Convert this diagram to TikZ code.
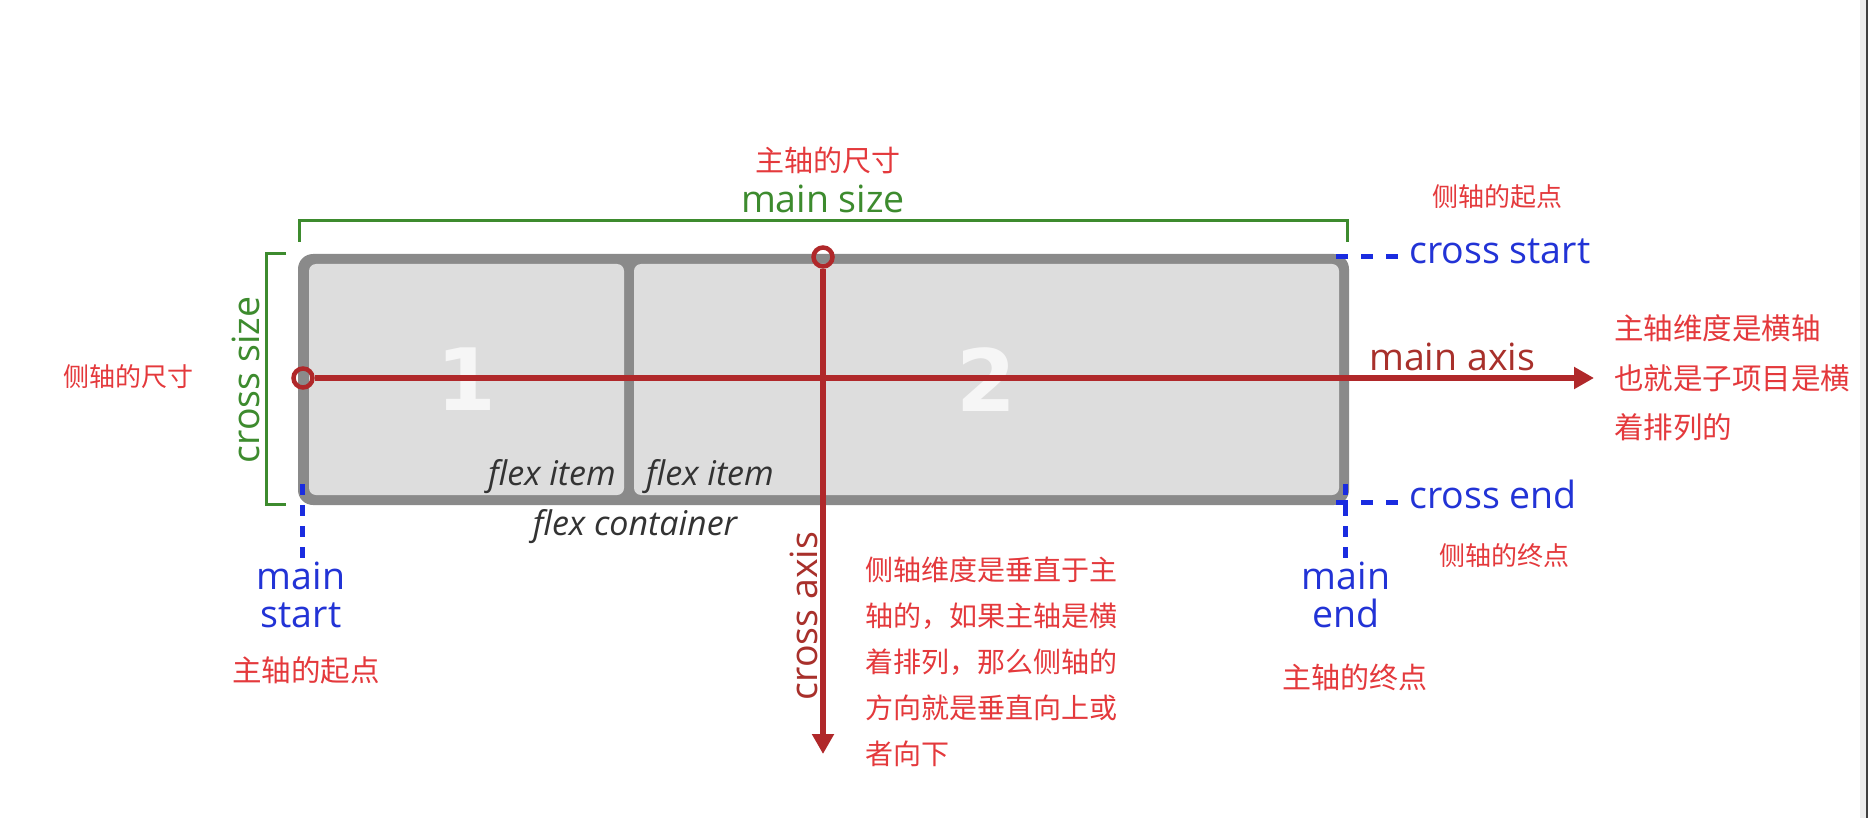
\documentclass[tikz,border=0pt]{standalone}
\usepackage{fontspec}
\setmainfont{Open Sans}
\newfontfamily\cjk{Noto Sans CJK SC}
\newfontfamily\digitfont{DejaVu Sans}
\usetikzlibrary{arrows.meta}
\definecolor{brgreen}{HTML}{3D8B2E}
\definecolor{axred}{HTML}{B0282A}
\definecolor{lblred}{HTML}{A8302B}
\definecolor{zhred}{HTML}{E4393C}
\definecolor{dblue}{HTML}{1A2CE0}
\definecolor{tblue}{HTML}{2233D6}
\definecolor{bordergray}{HTML}{8A8A8A}
\definecolor{itemfill}{HTML}{DDDDDD}
\definecolor{itemtext}{HTML}{333333}
\definecolor{numwhite}{HTML}{F6F6F6}
\tikzset{
  zh/.style 2 args={inner sep=0pt, text=zhred, font={\cjk\fontsize{#1}{#2}\selectfont}},
  en/.style={inner sep=0pt, anchor=base, font={\fontsize{37.5}{45}\selectfont}},
  fi/.style={inner sep=0pt, text=itemtext, font={\itshape\fontsize{34}{40}\selectfont}},
  bracket/.style={draw=brgreen, line width=3pt},
  itembox/.style={fill=itemfill, rounded corners=7pt, inner sep=0pt, minimum height=231pt,
    text=numwhite, font={\digitfont\bfseries\fontsize{86}{90}\selectfont}},
  ring/.style={circle, draw=axred, line width=4.5pt, minimum size=19pt, inner sep=0pt},
  axisline/.style={draw=axred, line width=5.5pt, -{Triangle[length=20pt,width=21pt]}},
  bdash/.style={draw=dblue, line width=5pt, dash pattern=on 12pt off 13pt},
  bdashv/.style={draw=dblue, line width=5pt, dash pattern=on 11pt off 10pt},
}
\begin{document}
\begin{tikzpicture}[x=1pt,y=-1pt]
\useasboundingbox (0,0) rectangle (1870,818);
\fill[white] (0,0) rectangle (1870,818);
% scrollbar edge
\fill[black!7] (1860,0) rectangle (1866,818);
\fill[black!75] (1866,0) rectangle (1868,818);

% brackets
\draw[bracket] (299,242) -- (299,221) -- (1347,221) -- (1347,242);
\draw[bracket] (286,254) -- (266,254) -- (266,504) -- (286,504);

% container and items
\node[fill=bordergray, rounded corners=15pt, minimum width=1051pt, minimum height=251pt, inner sep=0pt] (container) at (823.5,379.5) {};
\node[itembox, minimum width=315pt] (item1) at (466.5,379.5) {1};
\node[itembox, minimum width=705pt] (item2) at (986.5,379.5) {2};
\node[fi, anchor=base east] (fi1) at (616,485) {flex item};
\node[fi, anchor=base west] (fi2) at (646,485) {flex item};
\node[fi, anchor=base] (fc) at (635,535) {flex container};

% blue dashes
\coordinate (cs0) at (1336,257); \coordinate (cs1) at (1398,257);
\coordinate (ce0) at (1336,502); \coordinate (ce1) at (1398,502);
\coordinate (ms0) at (302,484); \coordinate (ms1) at (302,558);
\coordinate (me0) at (1345,484); \coordinate (me1) at (1345,558);
\draw[bdash] (cs0) -- (cs1);
\draw[bdash] (ce0) -- (ce1);
\draw[bdashv] (ms0) -- (ms1);
\draw[bdashv] (me0) -- (me1);

% axes
\node[ring] (mring) at (303,378) {};
\node[ring] (cring) at (823,257) {};
\coordinate (mtip) at (1594,378);
\coordinate (ctip) at (823,754);
\draw[axisline] (mring.east) -- (mtip);
\draw[axisline] (cring.south) -- (ctip);

% labels
\node[zh={29}{30}] (zhmsize) at (828,160) {主轴的尺寸};
\node[en, text=brgreen] (msize) at (823,213) {main size};
\node[zh={26}{28}] (zhcstart) at (1497,197) {侧轴的起点};
\node[en, anchor=base west, text=tblue] (cstart) at (1409,264) {cross start};
\node[en, anchor=base west, text=lblred] (maxis) at (1369,370) {main axis};
\node[en, anchor=base west, text=tblue] (cend) at (1409,508) {cross end};
\node[zh={29.5}{49.5}, anchor=west, align=left] (zhmain) at (1614,378) {主轴维度是横轴\\也就是子项目是横\\着排列的};
\node[zh={26}{28}] (zhcsize) at (128,377) {侧轴的尺寸};
\node[en, rotate=90, text=brgreen] (csize) at (259,380) {cross size};
\node[en, rotate=90, text=lblred] (caxis) at (817,616) {cross axis};
\node[en, text=tblue] (mstartA) at (301,589) {main};
\node[en, text=tblue] (mstartB) at (301,627) {start};
\node[zh={29.5}{30}] (zhmstart) at (306,670) {主轴的起点};
\node[en, text=tblue] (mendA) at (1346,589) {main};
\node[en, text=tblue] (mendB) at (1346,627) {end};
\node[zh={26}{28}] (zhcend) at (1504,556) {侧轴的终点};
\node[zh={29}{30}] (zhmend) at (1355,677) {主轴的终点};
\node[zh={28}{46}, anchor=west, align=left] (zhcross) at (865,662) {侧轴维度是垂直于主\\轴的，如果主轴是横\\着排列，那么侧轴的\\方向就是垂直向上或\\者向下};
\end{tikzpicture}
\end{document}
